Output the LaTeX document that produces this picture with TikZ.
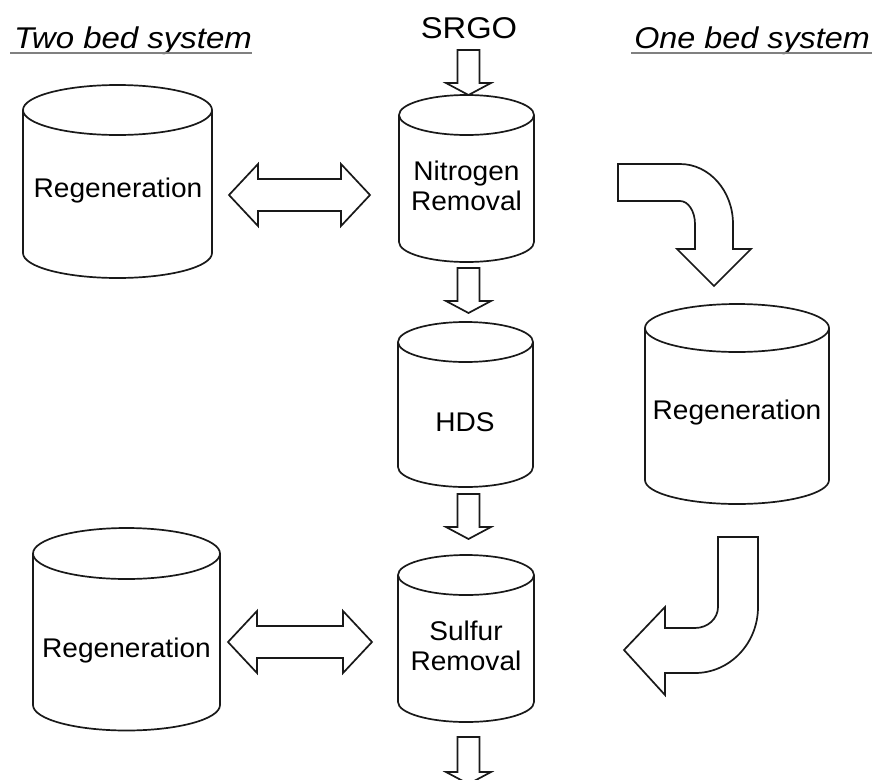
\documentclass[tikz,border=0pt]{standalone}
\usepackage{fontspec}
\setmainfont{Liberation Sans}

% A vertical tank: name, centre x, top-ellipse y, bottom-ellipse y, x radius, y radius
\newcommand{\drawtank}[6]{%
  \coordinate (#1) at (#2,{(#3+#4)/2});
  \draw[outline] (#2-#5,#3) -- (#2-#5,#4)
     arc[start angle=180,end angle=360,x radius=#5pt,y radius=#6pt] -- (#2+#5,#3);
  \draw[outline] (#2,#3) ellipse[x radius=#5pt,y radius=#6pt];
}
% A short downward block arrow: centre x, shaft top, head base, tip
\newcommand{\downblock}[4]{%
  \draw[outline] (#1-11,#2) -- (#1+11,#2) -- (#1+11,#3) -- (#1+22.5,#3) -- (#1,#4)
     -- (#1-22.5,#3) -- (#1-11,#3) -- cycle;
}
% A horizontal two-headed block arrow: left tip x, right tip x, centre y
\newcommand{\twoway}[3]{%
  \draw[outline] (#1,#3) -- (#1+29,#3-31) -- (#1+29,#3-16) -- (#2-29,#3-16)
     -- (#2-29,#3-31) -- (#2,#3) -- (#2-29,#3+31) -- (#2-29,#3+16)
     -- (#1+29,#3+16) -- (#1+29,#3+31) -- cycle;
}

\begin{document}
\begin{tikzpicture}[x=1pt,y=-1pt,
  outline/.style={draw=black!90,line width=1.7pt,line join=miter,fill=white},
  tanktext/.style={font=\fontsize{27}{31}\selectfont,inner sep=0pt,xscale=1.04,anchor=base},
  headtext/.style={font=\itshape\fontsize{30}{36}\selectfont,inner sep=0pt,xscale=1.1},
  rule/.style={draw=black!50,line width=2.2pt}]

\fill[white] (0,0) rectangle (880,779);
\useasboundingbox (0,0) rectangle (880,779);

% headings
\node[headtext,anchor=base west] (twobed) at (14,48) {Two bed system};
\node[headtext,anchor=base east,xscale=0.98] (onebed) at (870,48) {One bed system};
\draw[rule] ([xshift=-4pt,yshift=-5pt]twobed.base west) -- ([yshift=-5pt]twobed.base east);
\draw[rule] ([xshift=-3pt,yshift=-5pt]onebed.base west) -- ([xshift=2pt,yshift=-5pt]onebed.base east);

% feed
\node[font=\fontsize{30}{36}\selectfont,inner sep=0pt,xscale=1.09,anchor=base] (feed) at (469,38) {SRGO};

% main column
\downblock{468.5}{50}{83}{95}
\drawtank{nitro}{466.5}{115}{242}{67.5}{20}
\node[tanktext] (nitroA) at (466.5,180) {Nitrogen};
\node[tanktext] (nitroB) at (466.5,210) {Removal};

\downblock{468.5}{268}{301}{313}
\drawtank{hds}{465.5}{342}{467}{67.5}{20}
\node[tanktext] (hdsT) at (465,431) {HDS};

\downblock{468.5}{494}{527}{539}
\drawtank{sulf}{466}{575}{702}{68}{20}
\node[tanktext] (sulfA) at (466,640) {Sulfur};
\node[tanktext] (sulfB) at (466,670) {Removal};

\downblock{468.5}{737}{772}{784}

% two bed system
\drawtank{regA}{117.5}{110}{253}{94.5}{25}
\node[tanktext] (regAT) at (118,197) {Regeneration};
\twoway{229}{370}{195}

\drawtank{regB}{126.5}{553.5}{705}{93.5}{25.5}
\node[tanktext] (regBT) at (126.5,657) {Regeneration};
\twoway{228}{372}{642}

% one bed system
\drawtank{regC}{737}{328}{480}{92}{24}
\node[tanktext] (regCT) at (737,419) {Regeneration};

\draw[outline] (618,164) -- (680,164)
   arc[start angle=90,end angle=0,x radius=53pt,y radius=60pt]
   -- (733,249) -- (751,249) -- (714,286) -- (677,249) -- (695,249) -- (695,224)
   arc[start angle=0,end angle=90,x radius=15pt,y radius=23pt]
   -- (618,201) -- cycle;

\draw[outline] (718,537) -- (758,537) -- (758,607)
   arc[start angle=0,end angle=-90,x radius=63pt,y radius=66pt]
   -- (665,673) -- (665,695) -- (624,650) -- (665,607) -- (665,628) -- (695,628)
   arc[start angle=-90,end angle=0,x radius=23pt,y radius=21pt]
   -- cycle;
\end{tikzpicture}
\end{document}
